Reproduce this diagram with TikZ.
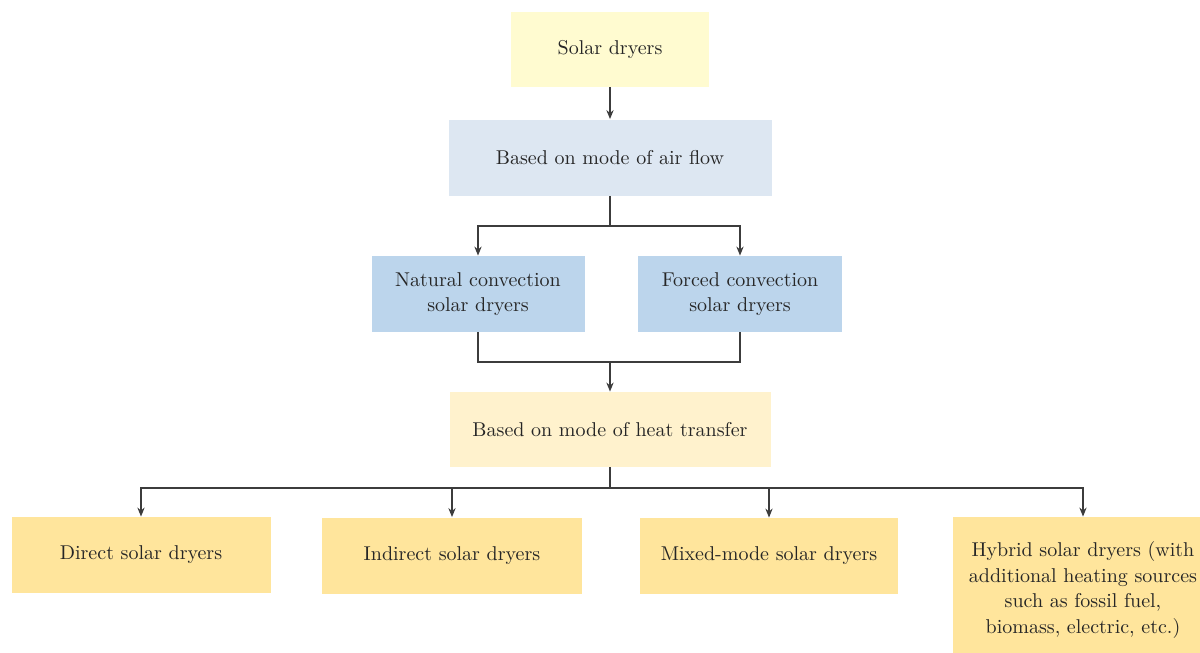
\documentclass[tikz,border=0pt]{standalone}
\usetikzlibrary{arrows.meta}
\definecolor{topfill}{HTML}{FFFBD0}
\definecolor{airfill}{HTML}{DDE7F2}
\definecolor{convfill}{HTML}{BCD5EC}
\definecolor{heatfill}{HTML}{FFF2CD}
\definecolor{typefill}{HTML}{FFE59C}
\definecolor{textgray}{HTML}{262626}
\definecolor{linegray}{HTML}{3C3C3C}
\begin{document}
\begin{tikzpicture}[x=0.5pt,y=-0.5pt,
  box/.style={rectangle,inner sep=0pt,align=center,text=textgray,
    font=\fontsize{10}{12.8}\selectfont,minimum height=38pt},
  link/.style={draw=linegray,line width=0.75pt},
  >={Stealth[length=4.5pt,width=3.6pt]}]
\clip (0,0) rectangle (1200,653);

\node[box,fill=topfill,minimum width=99pt,minimum height=37.5pt] (1) at (610,49.5) {Solar dryers};

\node[box,fill=airfill,minimum width=161.5pt] (2) at (610,157.5) {Based on mode of air flow};

\node[box,fill=convfill,minimum width=106.5pt] (31) at (478,294) {Natural convection\\solar dryers};
\node[box,fill=convfill,minimum width=102pt] (32) at (740,294) {Forced convection\\solar dryers};

\node[box,fill=heatfill,minimum width=160.5pt,minimum height=37.5pt] (4) at (610,429.5) {Based on mode of heat transfer};

\node[box,fill=typefill,minimum width=129.5pt] (51) at (141,555) {Direct solar dryers};
\node[box,fill=typefill,minimum width=130pt] (52) at (452,555.5) {Indirect solar dryers};
\node[box,fill=typefill,minimum width=129pt] (53) at (769,556) {Mixed-mode solar dryers};
\node[box,fill=typefill,minimum width=130pt,minimum height=73pt] (54) at (1083,590)
  {Hybrid solar dryers (with\\additional heating sources\\such as fossil fuel,\\biomass, electric, etc.)};

\coordinate (s2) at (610,226);
\coordinate (m3) at (610,362);
\coordinate (s4) at (610,488);

\draw [link,->] (1) -- (2);
\draw [link] (2) -- (s2);
\draw [link,->] (s2) -| (31);
\draw [link,->] (s2) -| (32);
\draw [link] (31) |- (m3) -| (32);
\draw [link,->] (m3) -- (4);
\draw [link] (4) -- (s4);
\foreach \n in {51,52,53,54}
  \draw [link,->] (s4) -| (\n);
\end{tikzpicture}
\end{document}
